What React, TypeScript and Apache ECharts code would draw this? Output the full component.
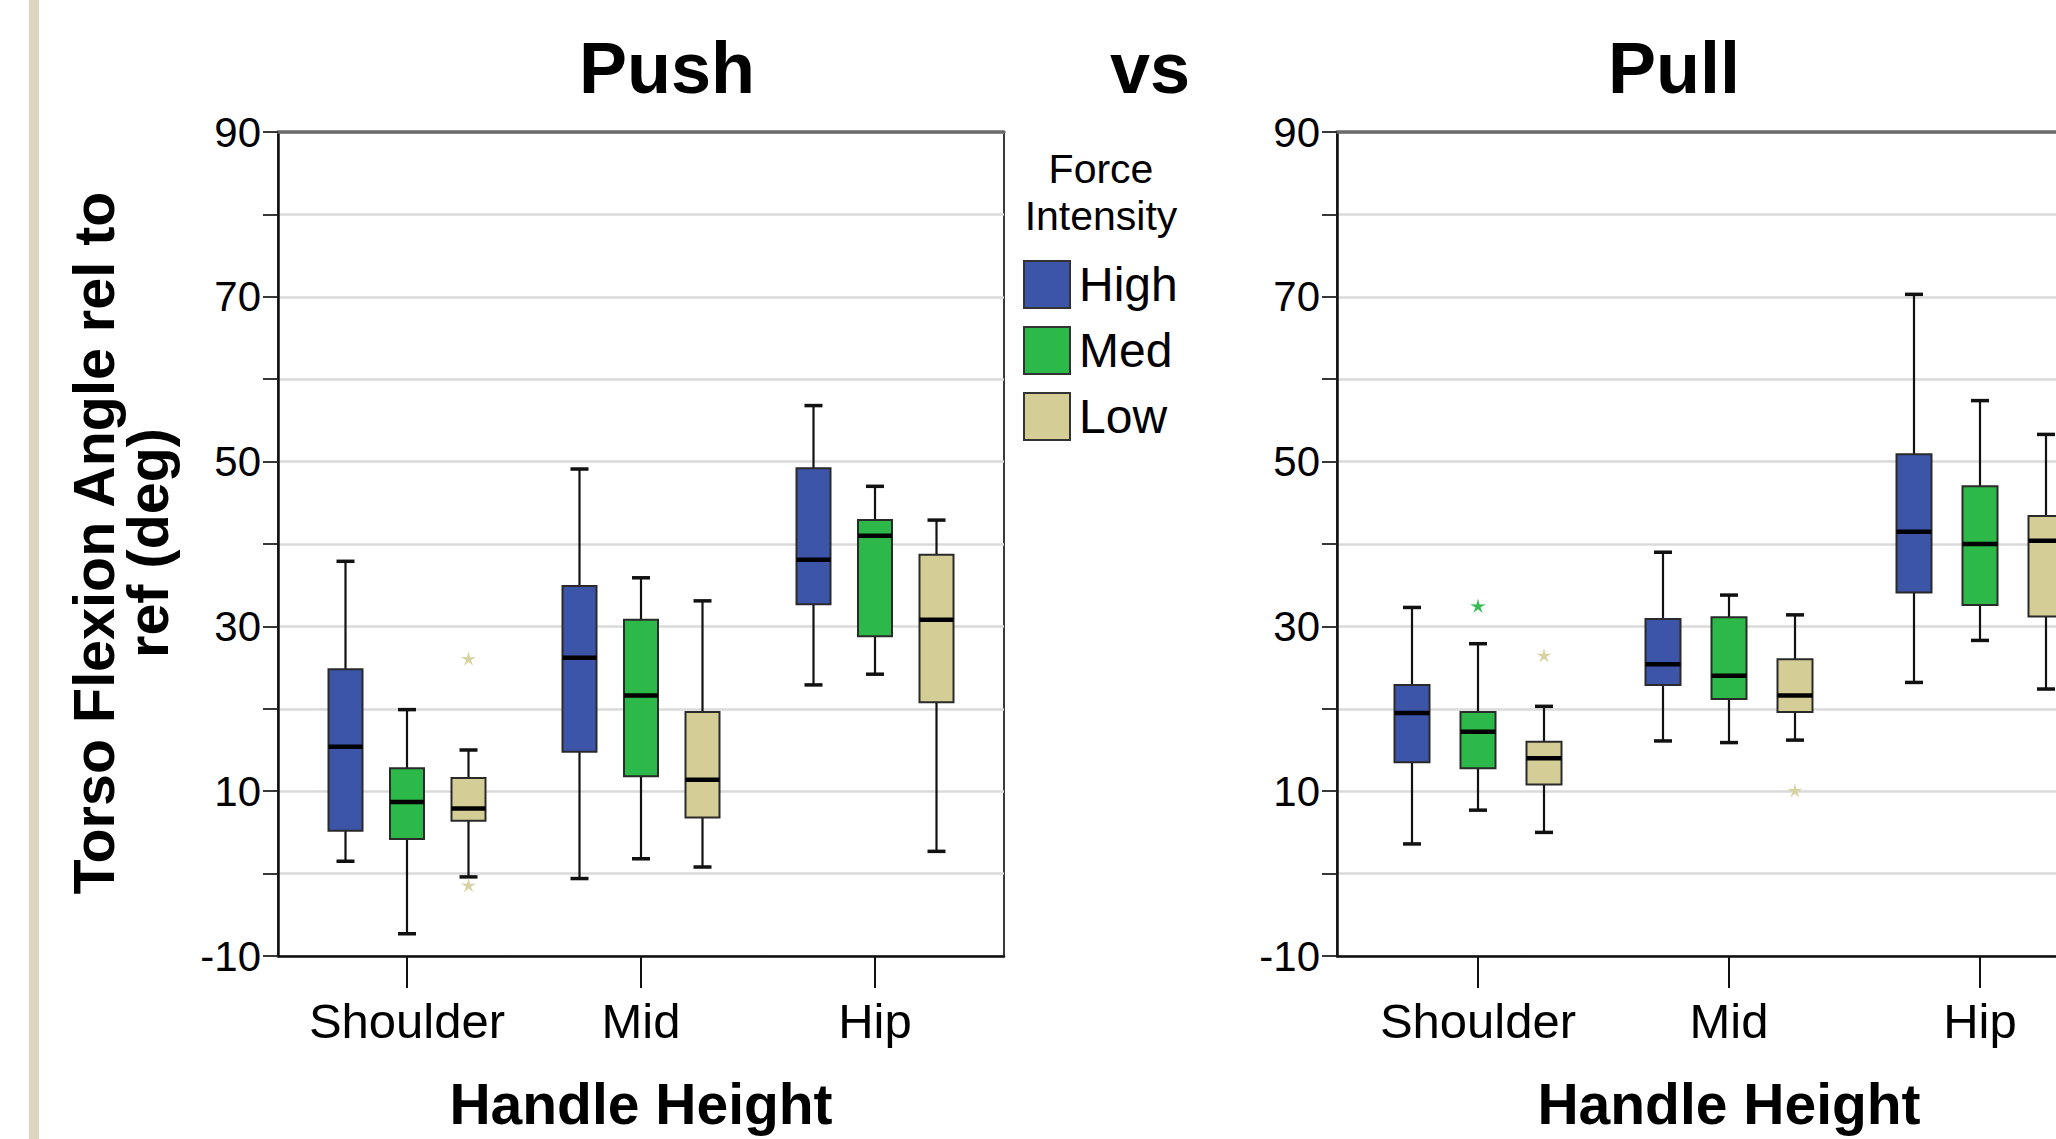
import React, { useEffect, useRef } from "react";
import * as echarts from "echarts";

// ---------- data ----------
const categories = ["Shoulder", "Mid", "Hip"];
const intensities = ["High", "Med", "Low"];
const colors = ["#3C55A8", "#2DB84A", "#D4CE96"];
const starColors = ["#3C55A8", "#35BC52", "#D8D3A2"];
const yLabelValues = [-10, 10, 30, 50, 70, 90];

// each row: [min, Q1, median, Q3, max] for Shoulder, Mid, Hip
const pushHigh = [
  [1.5, 5.2, 15.4, 24.8, 37.9],
  [-0.6, 14.8, 26.2, 34.9, 49.1],
  [22.9, 32.7, 38.1, 49.2, 56.8],
];
const pushMed = [
  [-7.3, 4.2, 8.7, 12.8, 19.9],
  [1.8, 11.8, 21.6, 30.8, 35.9],
  [24.2, 28.8, 41.0, 42.9, 47.0],
];
const pushLow = [
  [-0.4, 6.4, 7.9, 11.6, 15.0],
  [0.8, 6.8, 11.4, 19.6, 33.1],
  [2.7, 20.8, 30.8, 38.7, 42.9],
];
const pullHigh = [
  [3.6, 13.5, 19.5, 22.9, 32.3],
  [16.1, 22.9, 25.4, 30.9, 39.0],
  [23.2, 34.1, 41.5, 50.9, 70.3],
];
const pullMed = [
  [7.7, 12.8, 17.2, 19.6, 27.9],
  [15.9, 21.2, 24.0, 31.1, 33.8],
  [28.3, 32.6, 40.0, 47.0, 57.4],
];
const pullLow = [
  [5.0, 10.8, 14.0, 16.0, 20.3],
  [16.2, 19.6, 21.6, 26.0, 31.4],
  [22.4, 31.2, 40.4, 43.4, 53.3],
];
// outliers: [categoryIndex, value]
const pushHighOut: number[][] = [];
const pushMedOut: number[][] = [];
const pushLowOut = [
  [0, 26.0],
  [0, -1.5],
];
const pullHighOut: number[][] = [];
const pullMedOut = [[0, 32.4]];
const pullLowOut = [
  [0, 26.4],
  [1, 10.0],
];

// ---------- layout ----------
const FONT = "'Liberation Sans', Arial, Helvetica, sans-serif";
const TOP = 132;
const HEIGHT = 824;
const panels = [
  {
    frameLeft: 278,
    frameWidth: 726,
    bandLeft: 290,
    bandWidth: 702,
    step: 61.5,
    boxW: 34,
    boxes: [pushHigh, pushMed, pushLow],
    outs: [pushHighOut, pushMedOut, pushLowOut],
  },
  {
    frameLeft: 1337,
    frameWidth: 779,
    bandLeft: 1352.5,
    bandWidth: 753,
    step: 66,
    boxW: 35,
    boxes: [pullHigh, pullMed, pullLow],
    outs: [pullHighOut, pullMedOut, pullLowOut],
  },
];

function makeBoxRenderer(offset: number, boxW: number, color: string) {
  return (params: any, api: any) => {
    const c = api.value(0);
    const pMin = api.coord([c, api.value(1)]);
    const yQ1 = api.coord([c, api.value(2)])[1];
    const yMed = api.coord([c, api.value(3)])[1];
    const yQ3 = api.coord([c, api.value(4)])[1];
    const yMax = api.coord([c, api.value(5)])[1];
    const yMin = pMin[1];
    const x = pMin[0] + offset;
    const capHalf = 9;
    const stroke = "#111";
    return {
      type: "group",
      children: [
        { type: "line", shape: { x1: x, y1: yMax, x2: x, y2: yQ3 }, style: { stroke, lineWidth: 2.2 } },
        { type: "line", shape: { x1: x, y1: yQ1, x2: x, y2: yMin }, style: { stroke, lineWidth: 2.2 } },
        { type: "line", shape: { x1: x - capHalf, y1: yMax, x2: x + capHalf, y2: yMax }, style: { stroke, lineWidth: 3.5 } },
        { type: "line", shape: { x1: x - capHalf, y1: yMin, x2: x + capHalf, y2: yMin }, style: { stroke, lineWidth: 3.5 } },
        {
          type: "rect",
          shape: { x: x - boxW / 2, y: yQ3, width: boxW, height: yQ1 - yQ3 },
          style: { fill: color, stroke: "#2a2a2a", lineWidth: 2 },
        },
        {
          type: "line",
          shape: { x1: x - boxW / 2, y1: yMed, x2: x + boxW / 2, y2: yMed },
          style: { stroke: "#000", lineWidth: 4.5 },
        },
      ],
    };
  };
}

function starPoints(cx: number, cy: number, R: number, r: number) {
  const pts: number[][] = [];
  for (let i = 0; i < 10; i++) {
    const a = -Math.PI / 2 + (i * Math.PI) / 5;
    const rad = i % 2 === 0 ? R : r;
    pts.push([cx + rad * Math.cos(a), cy + rad * Math.sin(a)]);
  }
  return pts;
}

function makeStarRenderer(offset: number, color: string) {
  return (params: any, api: any) => {
    const p = api.coord([api.value(0), api.value(1)]);
    return {
      type: "polygon",
      shape: { points: starPoints(p[0] + offset, p[1], 8, 2.6) },
      style: { fill: color },
    };
  };
}

function buildOption() {
  const grid: any[] = [];
  const xAxis: any[] = [];
  const yAxis: any[] = [];
  const series: any[] = [];

  panels.forEach((p, pi) => {
    grid.push({
      left: p.frameLeft,
      top: TOP,
      width: p.frameWidth,
      height: HEIGHT,
      show: true,
      borderColor: "#3a3a3a",
      borderWidth: 2,
      backgroundColor: "transparent",
    });
    grid.push({ left: p.bandLeft, top: TOP, width: p.bandWidth, height: HEIGHT });

    const gA = pi * 2;
    const gB = pi * 2 + 1;
    xAxis.push({
      type: "category",
      gridIndex: gA,
      position: "bottom",
      data: categories,
      axisLine: { show: true, onZero: false, lineStyle: { color: "#111", width: 2.5 } },
      axisTick: { show: false },
      axisLabel: { show: false },
      splitLine: { show: false },
    });
    xAxis.push({
      type: "category",
      gridIndex: gA,
      position: "top",
      data: categories,
      axisLine: { show: true, onZero: false, lineStyle: { color: "#6b6b6b", width: 3.5 } },
      axisTick: { show: false },
      axisLabel: { show: false },
      splitLine: { show: false },
    });
    xAxis.push({
      type: "category",
      gridIndex: gB,
      position: "bottom",
      data: categories,
      axisLine: { show: false, onZero: false },
      axisTick: {
        show: true,
        alignWithLabel: true,
        interval: 0,
        length: 32,
        lineStyle: { color: "#111", width: 2 },
      },
      axisLabel: { show: true, interval: 0, fontSize: 49, fontFamily: FONT, color: "#000", margin: 40 },
      splitLine: { show: false },
    });
    yAxis.push({
      type: "value",
      gridIndex: gA,
      min: -10,
      max: 90,
      interval: 10,
      axisLine: { show: true, onZero: false, lineStyle: { color: "#111", width: 2.5 } },
      axisTick: { show: true, inside: false, length: 15, lineStyle: { color: "#222", width: 1.8 } },
      axisLabel: {
        show: true,
        fontSize: 42,
        fontFamily: FONT,
        color: "#000",
        margin: 17,
        padding: [16, 0, 0, 0],
        formatter: (v: number) => (yLabelValues.indexOf(v) >= 0 ? String(v) : ""),
      },
      splitLine: { show: true, lineStyle: { color: "#dadada", width: 2.5 } },
    });
    yAxis.push({ type: "value", gridIndex: gB, min: -10, max: 90, interval: 10, show: false });

    const xi = pi * 3 + 2;
    const yi = pi * 2 + 1;
    intensities.forEach((name, si) => {
      const offset = (si - 1) * p.step;
      series.push({
        type: "custom",
        name,
        xAxisIndex: xi,
        yAxisIndex: yi,
        z: 3,
        itemStyle: { color: colors[si], borderColor: "#333", borderWidth: 2 },
        encode: { x: 0, y: [1, 2, 3, 4, 5] },
        data: p.boxes[si].map((b, c) => [c, ...b]),
        renderItem: makeBoxRenderer(offset, p.boxW, colors[si]),
      });
      if (p.outs[si].length) {
        series.push({
          type: "custom",
          name,
          xAxisIndex: xi,
          yAxisIndex: yi,
          z: 4,
          itemStyle: { color: colors[si] },
          encode: { x: 0, y: 1 },
          data: p.outs[si],
          renderItem: makeStarRenderer(offset, starColors[si]),
        });
      }
    });
  });

  const titleFont = { fontFamily: FONT, fontWeight: "bold", fill: "#000" };
  const graphic: any[] = [
    { type: "rect", left: 29, top: 0, shape: { x: 0, y: 0, width: 10, height: 1139 }, style: { fill: "#DDD6BF" }, silent: true },
    { type: "text", x: 667, y: 68, style: { text: "Push", fontSize: 72, ...titleFont, align: "center", verticalAlign: "middle" } },
    { type: "text", x: 1150, y: 68, style: { text: "vs", fontSize: 72, ...titleFont, align: "center", verticalAlign: "middle" } },
    { type: "text", x: 1674, y: 68, style: { text: "Pull", fontSize: 72, ...titleFont, align: "center", verticalAlign: "middle" } },
    {
      type: "text",
      x: 121,
      y: 543,
      rotation: Math.PI / 2,
      style: {
        text: "Torso Flexion Angle rel to\nref (deg)",
        fontSize: 57.5,
        lineHeight: 54,
        ...titleFont,
        align: "center",
        verticalAlign: "middle",
      },
    },
    { type: "text", x: 641, y: 1104, style: { text: "Handle Height", fontSize: 57, ...titleFont, align: "center", verticalAlign: "middle" } },
    { type: "text", x: 1729, y: 1104, style: { text: "Handle Height", fontSize: 57, ...titleFont, align: "center", verticalAlign: "middle" } },
    {
      type: "text",
      x: 1101,
      y: 169,
      style: { text: "Force", fontSize: 41, fontFamily: FONT, fill: "#000", align: "center", verticalAlign: "middle" },
    },
    {
      type: "text",
      x: 1101,
      y: 216,
      style: { text: "Intensity", fontSize: 41, fontFamily: FONT, fill: "#000", align: "center", verticalAlign: "middle" },
    },
  ];

  return {
    animation: false,
    backgroundColor: "#ffffff",
    grid,
    xAxis,
    yAxis,
    series,
    legend: {
      orient: "vertical",
      left: 1023,
      top: 260,
      padding: 0,
      itemWidth: 46,
      itemHeight: 47,
      itemGap: 17,
      selectedMode: false,
      data: intensities.map((n, i) => ({
        name: n,
        icon: "rect",
        itemStyle: { color: colors[i], borderColor: "#333", borderWidth: 2 },
      })),
      textStyle: { fontSize: 48, fontFamily: FONT, color: "#000", lineHeight: 47, padding: [0, 0, 0, 4] },
    },
    graphic,
  };
}

export default function App() {
  const ref = useRef<HTMLDivElement>(null);
  useEffect(() => {
    if (!ref.current) return;
    const chart = echarts.init(ref.current, null, { renderer: "svg" });
    chart.setOption(buildOption() as any);
    return () => chart.dispose();
  }, []);
  return (
    <div
      style={{
        position: "fixed",
        left: 0,
        top: 0,
        width: 2056,
        height: 1139,
        overflow: "hidden",
        background: "#fff",
      }}
    >
      <div ref={ref} style={{ position: "absolute", left: 0, top: 0, width: 2200, height: 1139 }} />
    </div>
  );
}
